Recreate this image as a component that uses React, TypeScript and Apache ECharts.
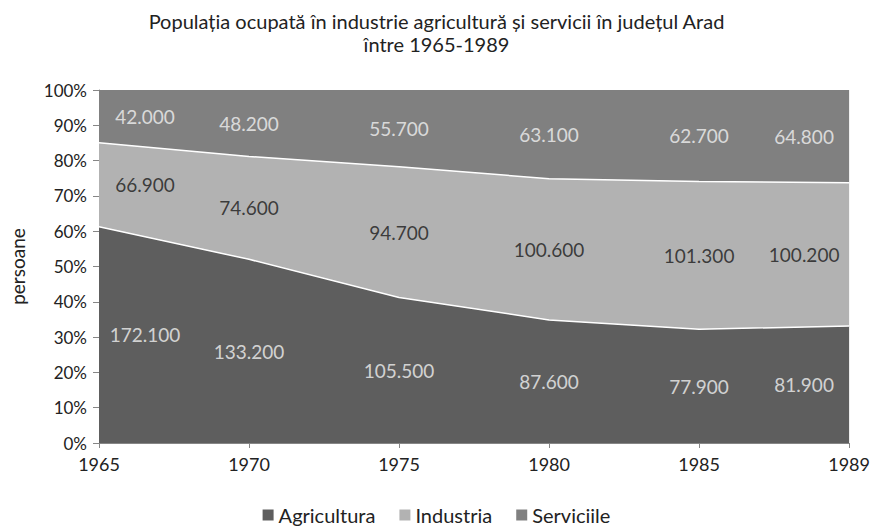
import React, { useEffect, useRef } from "react";
import * as echarts from "echarts";

const years = ["1965", "1970", "1975", "1980", "1985", "1989"];
const agricultura = [172100, 133200, 105500, 87600, 77900, 81900];
const industria = [66900, 74600, 94700, 100600, 101300, 100200];
const serviciile = [42000, 48200, 55700, 63100, 62700, 64800];
const seriesNames = ["Agricultura", "Industria", "Serviciile"];
const yTicks = [0, 10, 20, 30, 40, 50, 60, 70, 80, 90, 100];

const FONT = "Lato, 'Liberation Sans', sans-serif";

function fmt(v: number) {
  return String(v).replace(/\B(?=(\d{3})+(?!\d))/g, ".");
}

export default function App() {
  const ref = useRef<HTMLDivElement>(null);
  useEffect(() => {
    if (!ref.current) return;
    const chart = echarts.init(ref.current, undefined, { renderer: "svg" });
    const totals = years.map((_, i) => agricultura[i] + industria[i] + serviciile[i]);
    const raw = [agricultura, industria, serviciile];
    const pct = raw.map((arr) => arr.map((v, i) => (v / totals[i]) * 100));
    const colors = ["#5e5e5e", "#b2b2b2", "#808080"];
    const labelColors = ["#f2f2f2", "#1a1a1a", "#f2f2f2"];

    const areaSeries = pct.map((arr, s) => ({
      name: seriesNames[s],
      type: "line",
      stack: "total",
      data: arr,
      symbol: "none",
      lineStyle: { color: "#ffffff", width: s === 2 ? 0 : 1.5 },
      areaStyle: { color: colors[s], opacity: 1 },
      itemStyle: { color: colors[s] },
      z: 2,
    }));

    const labelSeries = pct.map((arr, s) => {
      const data = arr.map((p, i) => {
        let base = 0;
        for (let k = 0; k < s; k++) base += pct[k][i];
        const offX = i === 0 ? 46 : i === years.length - 1 ? -45 : 0;
        return {
          value: [i, base + p / 2],
          raw: raw[s][i],
          label: { offset: [offX, 0] },
        };
      });
      return {
        name: "lbl" + s,
        type: "scatter",
        data,
        symbolSize: 0,
        silent: true,
        z: 5,
        label: {
          show: true,
          position: "inside",
          color: labelColors[s],
          fontFamily: FONT,
          fontSize: 19,
          formatter: (p: any) => fmt(p.data.raw),
        },
      };
    });

    chart.setOption({
      animation: false,
      color: colors,
      title: {
        text: "Populația ocupată în industrie agricultură și servicii în județul Arad\nîntre 1965-1989",
        left: "center",
        top: 4,
        textStyle: {
          fontFamily: FONT,
          fontSize: 20,
          fontWeight: "normal",
          color: "#222",
          lineHeight: 23,
        },
      },
      legend: {
        data: seriesNames,
        top: 500,
        left: "center",
        icon: "rect",
        itemWidth: 11,
        itemHeight: 11,
        itemGap: 24,
        textStyle: { fontFamily: FONT, fontSize: 20, color: "#222", lineHeight: 20 },
      },
      grid: { left: 97, right: 21, top: 90, bottom: 83, containLabel: false },
      xAxis: {
        type: "category",
        data: years,
        boundaryGap: false,
        axisLine: { lineStyle: { color: "#868686" } },
        axisTick: { show: true, length: 5, lineStyle: { color: "#868686" } },
        axisLabel: { fontFamily: FONT, fontSize: 18, color: "#222", margin: 12 },
      },
      yAxis: {
        type: "value",
        min: 0,
        max: 100,
        interval: 10,
        name: "persoane",
        nameLocation: "middle",
        nameGap: 72,
        nameTextStyle: { fontFamily: FONT, fontSize: 19, color: "#222" },
        axisLine: { show: true, lineStyle: { color: "#868686" } },
        axisTick: { show: true, length: 6, lineStyle: { color: "#868686" } },
        splitLine: { show: false },
        axisLabel: {
          fontFamily: FONT,
          fontSize: 17,
          color: "#222",
          margin: 12,
          formatter: (v: number) => (yTicks.includes(v) ? v + "%" : ""),
        },
      },
      series: [...areaSeries, ...labelSeries],
    });
    return () => chart.dispose();
  }, []);
  return (
    <div
      ref={ref}
      style={{ position: "absolute", left: 0, top: 0, width: 873, height: 526 }}
    />
  );
}
